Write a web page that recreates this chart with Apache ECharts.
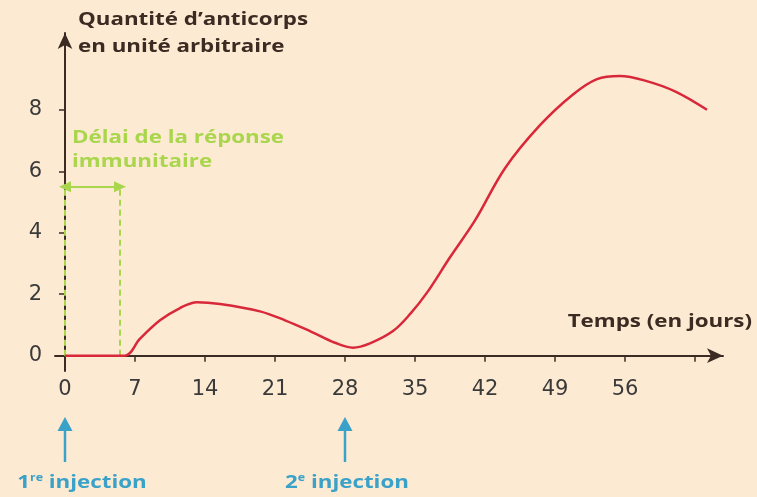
<!DOCTYPE html>
<html>
<head>
<meta charset="utf-8">
<script src="https://cdn.jsdelivr.net/npm/echarts@6/dist/echarts.min.js"></script>
<style>
  html, body { margin: 0; padding: 0; background: #fdead2; }
  #chart { width: 757px; height: 497px; }
</style>
</head>
<body>
<div id="chart"></div>
<script>
// jours / quantité d'anticorps
const days = [0, 3, 6, 7.5, 9.5, 11.5, 13.2, 15.5, 19.5, 22, 24.5, 27, 28.8, 30.5, 32.8, 34.5, 36.2, 38.5, 41, 44, 47.5, 50.8, 53.2, 55.5, 58, 61, 64.2];
const antibodies = [0, 0, 0, 0.55, 1.15, 1.55, 1.74, 1.68, 1.44, 1.15, 0.8, 0.42, 0.26, 0.4, 0.8, 1.35, 2.05, 3.2, 4.4, 6.1, 7.5, 8.5, 9.0, 9.1, 8.95, 8.6, 8.0];
const xTicks = [0, 7, 14, 21, 28, 35, 42, 49, 56, 63];
const xLabels = [0, 7, 14, 21, 28, 35, 42, 49, 56];
const yTicks = [0, 2, 4, 6, 8];
const delayEnd = 5.5;       // fin du délai de la réponse
const delayLevel = 5.5;     // hauteur de la flèche verte
const injections = [0, 28]; // jours des injections

const dark = "#3b2b22";
const green = "#a9d64c";
const blue = "#3aa2c9";
const font = "Open Sans";

const chart = echarts.init(document.getElementById("chart"));

const options = {
  backgroundColor: "#fdead2",
  animation: false,
  grid: { left: 55, right: 34, top: 33, height: 338 },
  xAxis: {
    type: "value",
    min: -1,
    max: 65.8,
    axisLine: {
      onZero: true,
      symbol: ["none", "arrow"],
      symbolSize: [11, 16],
      lineStyle: { color: dark, width: 2 },
    },
    axisTick: { customValues: xTicks, length: 6, lineStyle: { color: dark, width: 1.5 } },
    axisLabel: {
      customValues: xLabels,
      margin: 8,
      color: "#3a3a3a",
      fontSize: 21,
      fontFamily: "DejaVu Sans",
    },
    splitLine: { show: false },
  },
  yAxis: {
    type: "value",
    min: -0.5,
    max: 10.5,
    axisLine: {
      show: true,
      onZero: true,
      symbol: ["none", "arrow"],
      symbolSize: [11, 16],
      lineStyle: { color: dark, width: 2 },
    },
    axisTick: { show: true, customValues: yTicks, length: 6, lineStyle: { color: dark, width: 1.5 } },
    axisLabel: {
      customValues: yTicks,
      margin: 13,
      color: "#3a3a3a",
      fontSize: 21,
      fontFamily: "DejaVu Sans",
    },
    splitLine: { show: false },
  },
  series: [
    {
      type: "line",
      data: days.map((d, i) => [d, antibodies[i]]),
      smooth: 0.35,
      showSymbol: false,
      z: 5,
      lineStyle: { color: "#d8283a", width: 2.5 },
      markLine: {
        silent: true,
        animation: false,
        label: { show: false },
        symbol: ["none", "none"],
        data: [
          [
            { coord: [0, 0], lineStyle: { color: green, type: [6, 4], width: 2 } },
            { coord: [0, delayLevel] },
          ],
          [
            { coord: [delayEnd, 0], lineStyle: { color: green, type: [6, 4], width: 2 } },
            { coord: [delayEnd, delayLevel] },
          ],
          [
            { coord: [0, delayLevel], symbol: "triangle", symbolSize: [11, 12], symbolRotate: 90, lineStyle: { color: green, type: "solid", width: 2 } },
            { coord: [delayEnd, delayLevel], symbol: "triangle", symbolSize: [11, 12], symbolRotate: -90 },
          ],
        ],
      },
    },
  ],
};

chart.setOption(options);

// annotations : titres, délai, injections
const stretch = 1.24;
const txt = (x, y, text, style) => ({
  type: "text",
  x, y,
  scaleX: stretch,
  style: Object.assign({ text, fontFamily: font, fontWeight: "bold", fontSize: 18 }, style),
});

const graphics = [
  txt(78, 6, "Quantité d’anticorps\nen unité arbitraire", { lineHeight: 27, fill: dark }),
  txt(752, 313, "Temps (en jours)", { fill: dark, align: "right" }),
  txt(72, 126, "Délai de la réponse\nimmunitaire", { lineHeight: 24, fill: green }),
];

const injLabels = [
  "{n|1}{s|re}{n| injection}",
  "{n|2}{s|e}{n| injection}",
];
const labelShift = [17, 2];
injections.forEach((d, i) => {
  const px = chart.convertToPixel({ gridIndex: 0 }, [d, 0])[0];
  graphics.push({
    type: "line",
    shape: { x1: px, y1: 462, x2: px, y2: 426 },
    style: { stroke: blue, lineWidth: 2.5 },
  });
  graphics.push({
    type: "polygon",
    shape: { points: [[px - 7.5, 431], [px + 7.5, 431], [px, 417]] },
    style: { fill: blue },
  });
  graphics.push({
    type: "text",
    x: px + labelShift[i],
    y: 473,
    scaleX: stretch,
    style: {
      text: injLabels[i],
      align: "center",
      rich: {
        n: { fontSize: 18, fontWeight: "bold", fontFamily: font, fill: blue, verticalAlign: "bottom" },
        s: { fontSize: 10, fontWeight: "bold", fontFamily: font, fill: blue, verticalAlign: "top", padding: [0, 0, 9, 0] },
      },
    },
  });
});

chart.setOption({ graphic: graphics });
</script>
</body>
</html>
